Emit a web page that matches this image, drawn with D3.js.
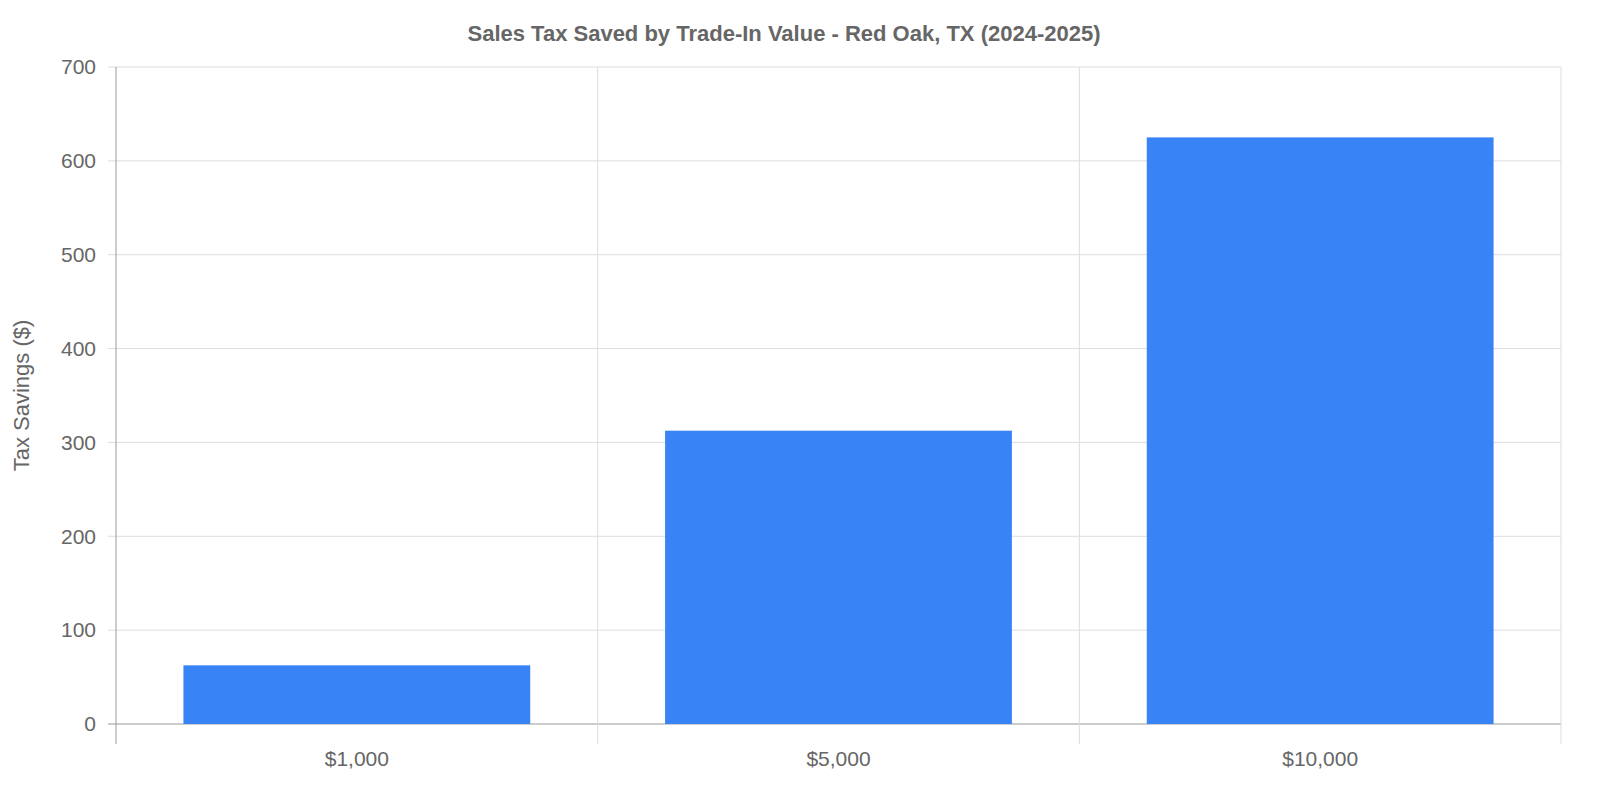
<!DOCTYPE html>
<html><head><meta charset="utf-8">
<script src="https://cdn.jsdelivr.net/npm/d3@7"></script>
<style>html,body{margin:0;background:#fff;overflow:hidden}svg{display:block;font-family:"Liberation Sans",Arial,sans-serif}</style>
</head><body><svg id="c" width="1600" height="800"></svg>
<script>
const categories = ["$1,000", "$5,000", "$10,000"];
const values = [62.5, 312.5, 625];
const yTicks = [0, 100, 200, 300, 400, 500, 600, 700];

const svg = d3.select("#c");
const L = 116, R = 1561, T = 67, B = 724;
const x = d3.scaleBand().domain(categories).range([L, R]).paddingInner(0).paddingOuter(0);
const y = d3.scaleLinear().domain([0, 700]).range([B, T]);
const grid = "#dddddd", axisC = "#999999", txt = "#666666";

svg.append("g").selectAll("line").data(yTicks).join("line")
  .attr("x1", L - 8).attr("x2", R).attr("y1", d => y(d)).attr("y2", d => y(d))
  .attr("stroke", d => d === 0 ? axisC : grid).attr("stroke-width", 1);
const bounds = categories.map(c => x(c)).concat([R]);
svg.append("g").selectAll("line").data(bounds).join("line")
  .attr("x1", d => d).attr("x2", d => d).attr("y1", T).attr("y2", B + 20)
  .attr("stroke", (d, i) => i === 0 ? axisC : grid).attr("stroke-width", 1);

const bw = x.bandwidth() * 0.72;
svg.append("g").selectAll("rect").data(values).join("rect")
  .attr("x", (d, i) => x(categories[i]) + (x.bandwidth() - bw) / 2)
  .attr("width", bw)
  .attr("y", d => y(d)).attr("height", d => B - y(d))
  .attr("fill", "#3883F6");

svg.append("g").selectAll("text").data(yTicks).join("text")
  .attr("x", L - 20).attr("y", d => y(d)).attr("dy", "0.35em")
  .attr("text-anchor", "end").attr("fill", txt).attr("font-size", 21).text(d => d);
svg.append("g").selectAll("text").data(categories).join("text")
  .attr("x", d => x(d) + x.bandwidth() / 2).attr("y", 766)
  .attr("text-anchor", "middle").attr("fill", txt).attr("font-size", 21).text(d => d);

svg.append("text").attr("x", 784).attr("y", 41).attr("text-anchor", "middle")
  .attr("font-weight", "bold").attr("font-size", 22).attr("fill", txt)
  .text("Sales Tax Saved by Trade-In Value - Red Oak, TX (2024-2025)");
svg.append("text").attr("transform", `translate(29,${(T + B) / 2}) rotate(-90)`)
  .attr("text-anchor", "middle").attr("font-size", 22).attr("fill", txt).text("Tax Savings ($)");
</script></body></html>
